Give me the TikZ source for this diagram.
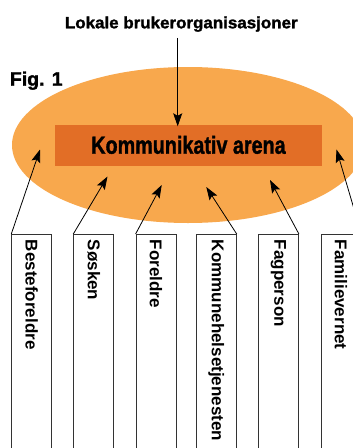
\documentclass[tikz,border=0pt]{standalone}
\usepackage{fontspec}
\usepackage{graphicx}
\setmainfont{Liberation Sans}
\newfontfamily\tittelfont[FakeBold=1.5]{Liberation Sans Bold}
\usetikzlibrary{arrows.meta}

\definecolor{arenabg}{RGB}{248,168,77}
\definecolor{arenafg}{RGB}{226,110,38}

\begin{document}
\begin{tikzpicture}[x=1pt,y=-1pt,>={Stealth[length=13pt,width=9pt,inset=2.5pt]},
      line width=0.8pt]
    \tikzstyle{every node}=[inner sep=0pt]
    \tikzstyle{pil}=[->,draw=black]
    \tikzstyle{gruppe}=[draw=black!80,rotate=-90,anchor=west,
      minimum height=40pt,text width=225pt,inner xsep=5.5pt,align=left,
      font=\bfseries\fontsize{17}{20}\selectfont]
    
    \useasboundingbox (0,0) rectangle (353,448);
    \clip (0,0) rectangle (353,448);
    
    \fill[arenabg] (188,145) ellipse [x radius=176pt,y radius=78pt];
    \node[fill=arenafg,minimum width=267pt,minimum height=41pt,
      font=\tittelfont\fontsize{24.7}{28}\selectfont] (arena) at (188.5,145.5)
      {\raisebox{1.5pt}{\scalebox{0.8}[1]{Kommunikativ arena}}};
    
    \node[anchor=base,font=\tittelfont\fontsize{16.3}{19}\selectfont] (lokal) at (181.3,28.3)
      {\scalebox{1.04}[1]{Lokale brukerorganisasjoner}};
    \node[anchor=base west,font=\tittelfont\fontsize{19.5}{23}\selectfont] (fig) at (9.5,85.7)
      {Fig. 1};
    
    \node[gruppe] (bestef)    at (31.7,234)  {Besteforeldre};
    \node[gruppe] (sosken)    at (93.7,234)  {Søsken};
    \node[gruppe] (foreldre)  at (156,234)   {Foreldre};
    \node[gruppe] (kommune)   at (216.3,234) {Kommunehelsetjenesten};
    \node[gruppe] (fagperson) at (278.5,234) {Fagperson};
    \node[gruppe] (familie)   at (341,234)   {Familievernet};
    
    % pilspisser inne i ellipsen
    \coordinate (tBestef)    at (40,149.5);
    \coordinate (tSosken)    at (107.5,176.5);
    \coordinate (tForeldre)  at (161.7,185);
    \coordinate (tKommune)   at (206.3,187);
    \coordinate (tFagperson) at (270,180);
    \coordinate (tFamilie)   at (336.5,149.5);
    
    % rotert node: south west = oppe til venstre, north west = oppe til hoyre
    \draw[pil] (bestef.south west)    -- (tBestef);
    \draw[pil] (sosken.south west)    -- (tSosken);
    \draw[pil] (foreldre.south west)  -- (tForeldre);
    \draw[pil] (kommune.north west)   -- (tKommune);
    \draw[pil] (fagperson.north west) -- (tFagperson);
    \draw[pil] (familie.north west)   -- (tFamilie);
    
    \draw[pil] ([xshift=-3.6pt,yshift=-5.6pt]lokal.south)
      -- ([xshift=-3.6pt,yshift=-1.7pt]lokal.south |- arena.north);
\end{tikzpicture}
\end{document}
